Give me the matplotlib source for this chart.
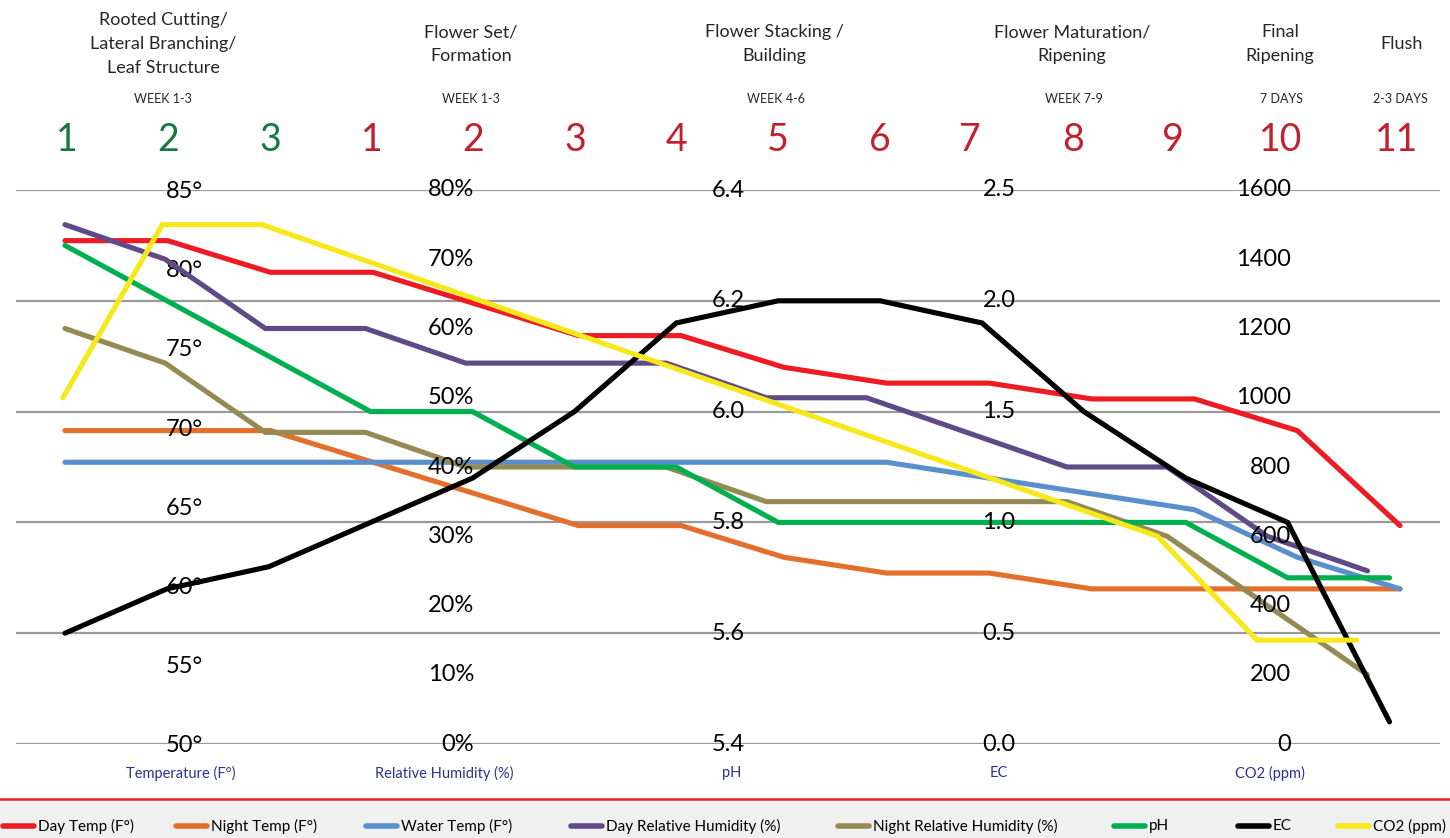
import numpy as np
import matplotlib
matplotlib.use('Agg')
import matplotlib.pyplot as plt
from matplotlib.lines import Line2D
from matplotlib.patches import Rectangle

plt.rcParams['font.family'] = ['Lato', 'DejaVu Sans']

W, H = 1450, 838

# stage headers
stages = ['Rooted Cutting/\nLateral Branching/\nLeaf Structure', 'Flower Set/\nFormation',
          'Flower Stacking /\nBuilding', 'Flower Maturation/\nRipening', 'Final\nRipening', 'Flush']
durations = ['WEEK 1-3', 'WEEK 1-3', 'WEEK 4-6', 'WEEK 7-9', '7 DAYS', '2-3 DAYS']
week_labels = ['1', '2', '3', '1', '2', '3', '4', '5', '6', '7', '8', '9', '10', '11']

# weekly targets
day_temp   = [82, 82, 80, 80, 78, 76, 76, 74, 73, 73, 72, 72, 70, 64]
night_temp = [70, 70, 70, 68, 66, 64, 64, 62, 61, 61, 60, 60, 60, 60]
water_temp = [68, 68, 68, 68, 68, 68, 68, 68, 68, 67, 66, 65, 62, 60]
day_rh     = [75, 70, 60, 60, 55, 55, 55, 50, 50, 45, 40, 40, 30, 25]
night_rh   = [60, 55, 45, 45, 40, 40, 40, 35, 35, 35, 35, 30, 20, 10]
ph         = [6.3, 6.2, 6.1, 6.0, 6.0, 5.9, 5.9, 5.8, 5.8, 5.8, 5.8, 5.8, 5.7, 5.7]
ec         = [0.5, 0.7, 0.8, 1.0, 1.2, 1.5, 1.9, 2.0, 2.0, 1.9, 1.5, 1.2, 1.0, 0.1]
co2        = [1000, 1500, 1500, 1400, 1300, 1200, 1100, 1000, 900, 800, 700, 600, 300, 300]

# scale labels shown inside the plot
temp_ticks = [85, 80, 75, 70, 65, 60, 55, 50]
rh_ticks   = [80, 70, 60, 50, 40, 30, 20, 10, 0]
ph_ticks   = [6.4, 6.2, 6.0, 5.8, 5.6, 5.4]
ec_ticks   = [2.5, 2.0, 1.5, 1.0, 0.5, 0.0]
co2_ticks  = [1600, 1400, 1200, 1000, 800, 600, 400, 200, 0]


def fx(px):
    return px / W


def fy(py):
    return 1 - py / H


fig = plt.figure(figsize=(W / 100, H / 100), dpi=100)
fig.patch.set_facecolor('white')

rect = [fx(16), fy(744), fx(1440) - fx(16), fy(190) - fy(744)]
ax_t = fig.add_axes(rect)
ax_rh = ax_t.twinx()
ax_ph = ax_t.twinx()
ax_ec = ax_t.twinx()
ax_co2 = ax_t.twinx()

ax_t.set_ylim(50.2, 85.2)
ax_rh.set_ylim(0, 80)
ax_ph.set_ylim(5.4, 6.4)
ax_ec.set_ylim(0, 2.5)
ax_co2.set_ylim(0, 1600)
for a in (ax_t, ax_rh, ax_ph, ax_ec, ax_co2):
    a.set_xlim(-0.477, 13.39)
    a.axis('off')

# horizontal guides
for v in ec_ticks:
    ax_t.plot([0, 1], [v / 2.5] * 2, transform=ax_t.transAxes,
              color='#9a9a9a', lw=1.6, zorder=0)

# (label, values, axis, color, step, start)
series = [
    ('Day Temp (F°)', day_temp, ax_t, '#ed1c24', 1.0, 0.0),
    ('Night Temp (F°)', night_temp, ax_t, '#e46f2a', 1.0, 0.0),
    ('Water Temp (F°)', water_temp, ax_t, '#5b8fcc', 1.0, 0.0),
    ('Day Relative Humidity (%)', day_rh, ax_rh, '#5f4a87', 0.9757, 0.0),
    ('Night Relative Humidity (%)', night_rh, ax_rh, '#948a54', 0.9757, 0.0),
    ('pH', ph, ax_ph, '#00b050', 0.9922, 0.0),
    ('EC', ec, ax_ec, '#000000', 0.9922, 0.0),
    ('CO2 (ppm)', co2, ax_co2, '#f7e81b', 0.969, -0.02),
]

for name, vals, a, color, step, start in series:
    x = start + step * np.arange(len(vals))
    a.plot(x, vals, color=color, lw=3.7, solid_capstyle='round',
           solid_joinstyle='miter', zorder=3)

# scale labels
lbl = dict(fontsize=17, color='black', va='center', zorder=5)
for v in temp_ticks:
    ax_t.text((184 - 16) / 1424, v + 0.1, f'{v}°', ha='center',
              transform=ax_t.get_yaxis_transform(), **lbl)
for v in rh_ticks:
    ax_rh.text((474 - 16) / 1424, v, f'{v}%', ha='right',
               transform=ax_rh.get_yaxis_transform(), **lbl)
for v in ph_ticks:
    ax_ph.text((728 - 16) / 1424, v, f'{v:.1f}', ha='center',
               transform=ax_ph.get_yaxis_transform(), **lbl)
for v in ec_ticks:
    ax_ec.text((999 - 16) / 1424, v, f'{v:.1f}', ha='center',
               transform=ax_ec.get_yaxis_transform(), **lbl)
for v in co2_ticks:
    ax_co2.text((1291 - 16) / 1424, v, f'{v}', ha='right',
                transform=ax_co2.get_yaxis_transform(), **lbl)

# axis names under the plot
axis_names = ['Temperature (F°)', 'Relative Humidity (%)', 'pH', 'EC', 'CO2 (ppm)']
name_x = [181, 444, 732, 999, 1270]
for t, x in zip(axis_names, name_x):
    fig.text(fx(x), fy(773), t, ha='center', va='center', fontsize=10.5, color='#2e3192')

# headers, one text per line, stacked 24 px apart and centred on row 44
stage_x = [163, 471, 774, 1072, 1280, 1402]
for t, x in zip(stages, stage_x):
    lines = t.split('\n')
    y0 = 44 - 12 * (len(lines) - 1)
    for k, line in enumerate(lines):
        fig.text(fx(x), fy(y0 + 24 * k), line, ha='center', va='center',
                 fontsize=13, color='#262626')
for t, x in zip(durations, [163, 471, 776, 1074, 1281, 1400]):
    fig.text(fx(x), fy(99), t, ha='center', va='center', fontsize=9, color='#262626')

week_x = [67, 168, 270, 372, 473, 575, 677, 778, 880, 970, 1073, 1173, 1281, 1397]
for i, (t, x) in enumerate(zip(week_labels, week_x)):
    fig.text(fx(x), fy(140), t, ha='center', va='center', fontsize=27,
             color='#17783f' if i < 3 else '#c1202f')

# legend strip
fig.patches.append(Rectangle((0, 0), 1, fy(800), transform=fig.transFigure,
                             facecolor='#f0f0f0', edgecolor='none', zorder=0))
fig.lines.append(Line2D([0, 1], [fy(799)] * 2, transform=fig.transFigure,
                        color='#ed1c24', lw=1.8))
legend_x = [0, 173, 363, 568, 835, 1111, 1235, 1335]
for (name, vals, a, color, step, start), x in zip(series, legend_x):
    fig.lines.append(Line2D([fx(x + 2.5), fx(x + 34)], [fy(826)] * 2,
                            transform=fig.transFigure, color=color, lw=4,
                            solid_capstyle='round'))
    fig.text(fx(x + 38), fy(826), name, ha='left', va='center', fontsize=11, color='black')

fig.savefig('out.png', dpi=100, facecolor='white')
